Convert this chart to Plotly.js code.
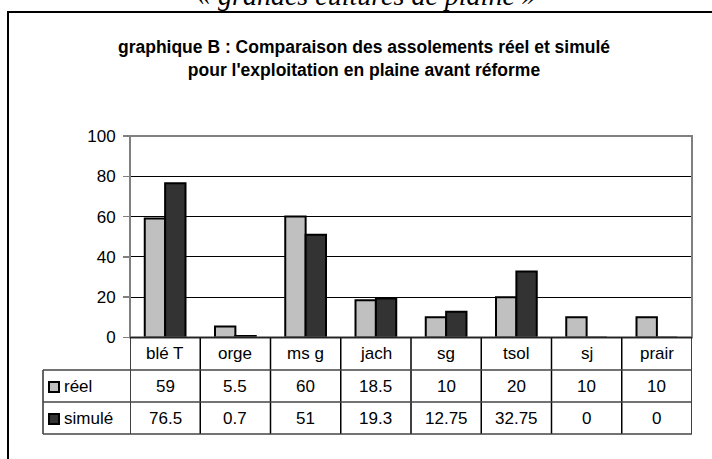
<!DOCTYPE html>
<html>
<head>
<meta charset="utf-8">
<script src="https://cdn.plot.ly/plotly-3.0.1.min.js"></script>
<style>html,body{margin:0;padding:0;background:#fff;}#chart{width:712px;height:459px;}</style>
</head>
<body>
<div id="chart"></div>
<script>
const categories = ['blé T', 'orge', 'ms g', 'jach', 'sg', 'tsol', 'sj', 'prair'];
const seriesNames = ['réel', 'simulé'];
const reel = [59, 5.5, 60, 18.5, 10, 20, 10, 10];
const simule = [76.5, 0.7, 51, 19.3, 12.75, 32.75, 0, 0];
const yTicks = [0, 20, 40, 60, 80, 100];
const topText = '« grandes cultures de plaine »';
const titleText = 'graphique B : Comparaison des assolements réel et simulé<br>pour l\'exploitation en plaine avant réforme';

const W = 712, H = 459;
const px = x => x / W;
const py = y => 1 - y / H;

const colors = ['#C0C0C0', '#333333'];
const seriesData = [reel, simule];

const plotL = 130, plotR = 692, plotT = 136, plotB = 337.5;
const rowLines = [370, 402, 434];
const legendLeft = 43;
const rowCenters = [353.5, 386, 418];

const traces = seriesData.map((vals, k) => ({
  type: 'bar',
  x: categories,
  y: vals,
  name: seriesNames[k],
  marker: {color: colors[k], line: {color: '#000', width: 2}},
  hoverinfo: 'skip'
}));

const shapes = [];
const annotations = [];

// outer frame (cut off at right and bottom)
shapes.push({type: 'rect', xref: 'paper', yref: 'paper', x0: px(8), x1: 1.05, y0: -0.05, y1: py(12),
  line: {color: '#000', width: 2}});

// plot border (grey)
shapes.push({type: 'rect', xref: 'paper', yref: 'paper', x0: px(plotL), x1: px(plotR), y0: py(plotB), y1: py(plotT),
  line: {color: '#808080', width: 2}});

// table: vertical lines at category boundaries
for (let i = 0; i <= categories.length; i++) {
  shapes.push({type: 'line', xref: 'x', yref: 'paper', x0: i - 0.5, x1: i - 0.5, y0: py(plotB), y1: py(rowLines[2]),
    line: {color: '#000', width: 1.5}});
}
// legend column left edge
shapes.push({type: 'line', xref: 'paper', yref: 'paper', x0: px(legendLeft), x1: px(legendLeft), y0: py(rowLines[0]), y1: py(rowLines[2]),
  line: {color: '#333', width: 1.5}});
// horizontal table lines
shapes.push({type: 'line', xref: 'paper', yref: 'paper', x0: px(plotL), x1: px(plotR), y0: py(plotB), y1: py(plotB),
  line: {color: '#222', width: 1.5}});
rowLines.forEach(y => {
  shapes.push({type: 'line', xref: 'paper', yref: 'paper', x0: px(legendLeft), x1: px(plotR), y0: py(y), y1: py(y),
    line: {color: '#444', width: 1.5}});
});

const tfont = {family: 'Liberation Sans, Arial, sans-serif', size: 17, color: '#000'};

// category header labels
categories.forEach((c, i) => {
  annotations.push({xref: 'x', yref: 'paper', x: i, y: py(rowCenters[0]), text: c, showarrow: false,
    xanchor: 'center', yanchor: 'middle', font: tfont});
});
// value rows + legend keys
seriesData.forEach((vals, k) => {
  vals.forEach((v, i) => {
    annotations.push({xref: 'x', yref: 'paper', x: i, y: py(rowCenters[k + 1]), text: String(v), showarrow: false,
      xanchor: 'center', yanchor: 'middle', font: tfont});
  });
  const cy = rowCenters[k + 1] + 1;
  shapes.push({type: 'rect', xref: 'paper', yref: 'paper', x0: px(49), x1: px(59), y0: py(cy + 5), y1: py(cy - 5),
    fillcolor: colors[k], line: {color: '#000', width: 2}});
  annotations.push({xref: 'paper', yref: 'paper', x: px(62), y: py(rowCenters[k + 1]), text: seriesNames[k], showarrow: false,
    xanchor: 'left', yanchor: 'middle', font: tfont});
});

// top cut-off italic text
annotations.push({xref: 'paper', yref: 'paper', x: px(366), y: py(-4.5), text: '<i>' + topText + '</i>', showarrow: false,
  xanchor: 'center', yanchor: 'middle', font: {family: 'Liberation Serif, Times New Roman, serif', size: 28, color: '#000'}});

const layout = {
  width: W, height: H,
  margin: {l: 0, r: 0, t: 0, b: 0},
  paper_bgcolor: '#fff', plot_bgcolor: '#fff',
  showlegend: false,
  barmode: 'group', bargap: 0.42, bargroupgap: 0,
  title: {text: '<b>' + titleText + '</b>', x: px(364), xanchor: 'center', xref: 'paper',
    y: py(53), yanchor: 'top', yref: 'container',
    font: {family: 'Liberation Sans, Arial, sans-serif', size: 17.5, color: '#000'}},
  xaxis: {domain: [px(plotL), px(plotR)], type: 'category', range: [-0.5, categories.length - 0.5],
    showticklabels: false, ticks: '', showgrid: false, zeroline: false, showline: false, fixedrange: true},
  yaxis: {domain: [py(plotB), py(plotT)], range: [0, 100], tickvals: yTicks, ticktext: yTicks.map(String),
    ticks: 'outside', ticklen: 6, tickwidth: 1.5, tickcolor: '#808080', ticklabelstandoff: 4,
    showgrid: true, gridcolor: '#000', gridwidth: 1, zeroline: false, showline: false,
    tickfont: tfont, fixedrange: true},
  shapes: shapes,
  annotations: annotations
};

Plotly.newPlot('chart', traces, layout, {displayModeBar: false, staticPlot: true});
</script>
</body>
</html>
